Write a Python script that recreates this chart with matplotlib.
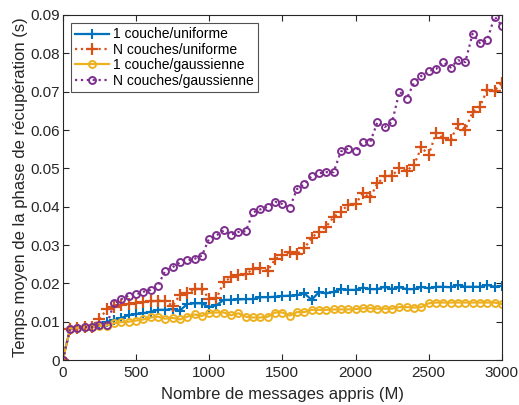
import matplotlib.pyplot as plt
import numpy as np

plt.rcParams['font.family'] = ['Liberation Sans', 'DejaVu Sans']

# nombre de messages appris (pas de 50)
messages = np.arange(0, 3001, 50)

un_uniforme = [0, 0.0082, 0.0084, 0.0086, 0.0087, 0.0096, 0.0100, 0.0104, 0.0110, 0.0117,
               0.0120, 0.0122, 0.0126, 0.0131, 0.0131, 0.0133, 0.0129, 0.0146, 0.0148, 0.0148,
               0.0138, 0.0143, 0.0157, 0.0157, 0.0158, 0.0159, 0.0159, 0.0164, 0.0164, 0.0165,
               0.0167, 0.0168, 0.0169, 0.0174, 0.0157, 0.0177, 0.0174, 0.0178, 0.0185, 0.0183,
               0.0183, 0.0189, 0.0185, 0.0185, 0.0191, 0.0185, 0.0190, 0.0185, 0.0185, 0.0191,
               0.0187, 0.0191, 0.0191, 0.0190, 0.0196, 0.0191, 0.0191, 0.0191, 0.0196, 0.0191,
               0.0194]

n_uniforme = [0, 0.0082, 0.0084, 0.0086, 0.0087, 0.0106, 0.0132, 0.0139, 0.0144, 0.0146,
              0.0150, 0.0151, 0.0153, 0.0155, 0.0155, 0.0141, 0.0170, 0.0174, 0.0185, 0.0186,
              0.0159, 0.0161, 0.0203, 0.0216, 0.0222, 0.0224, 0.0237, 0.0239, 0.0233, 0.0263,
              0.0274, 0.0281, 0.0277, 0.0291, 0.0319, 0.0335, 0.0348, 0.0373, 0.0387, 0.0405,
              0.0407, 0.0435, 0.0424, 0.0461, 0.0479, 0.0481, 0.0500, 0.0494, 0.0509, 0.0555,
              0.0535, 0.0592, 0.0579, 0.0573, 0.0616, 0.0601, 0.0647, 0.0661, 0.0705, 0.0703,
              0.0722]

un_gauss = [0, 0.0082, 0.0084, 0.0086, 0.0087, 0.0089, 0.0090, 0.0096, 0.0099, 0.0100,
            0.0103, 0.0106, 0.0111, 0.0113, 0.0108, 0.0110, 0.0106, 0.0113, 0.0119, 0.0115,
            0.0123, 0.0124, 0.0124, 0.0117, 0.0122, 0.0113, 0.0111, 0.0111, 0.0113, 0.0124,
            0.0124, 0.0116, 0.0125, 0.0125, 0.0131, 0.0131, 0.0131, 0.0132, 0.0132, 0.0132,
            0.0133, 0.0135, 0.0135, 0.0134, 0.0134, 0.0134, 0.0138, 0.0138, 0.0137, 0.0138,
            0.0148, 0.0150, 0.0150, 0.0150, 0.0150, 0.0150, 0.0150, 0.0150, 0.0150, 0.0150,
            0.0146]

n_gauss = [0, 0.0082, 0.0084, 0.0086, 0.0086, 0.0091, 0.0091, 0.0148, 0.0159, 0.0168,
           0.0171, 0.0178, 0.0183, 0.0194, 0.0233, 0.0242, 0.0255, 0.0260, 0.0264, 0.0272,
           0.0317, 0.0325, 0.0338, 0.0327, 0.0334, 0.0336, 0.0385, 0.0393, 0.0400, 0.0413,
           0.0407, 0.0397, 0.0446, 0.0458, 0.0480, 0.0487, 0.0490, 0.0490, 0.0544, 0.0551,
           0.0545, 0.0568, 0.0568, 0.0621, 0.0608, 0.0621, 0.0700, 0.0682, 0.0724, 0.0741,
           0.0754, 0.0759, 0.0777, 0.0763, 0.0782, 0.0777, 0.0851, 0.0827, 0.0834, 0.0896,
           0.0872]

yticks = [0, 0.01, 0.02, 0.03, 0.04, 0.05, 0.06, 0.07, 0.08, 0.09]
ylabels = ['0', '0.01', '0.02', '0.03', '0.04', '0.05', '0.06', '0.07', '0.08', '0.09']

fig = plt.figure(figsize=(5.19, 4.05), dpi=100)
ax = fig.add_axes([0.121, 0.111, 0.846, 0.852])

ax.plot(messages, un_uniforme, '-', color='#0072BD', lw=1.6, marker='+', ms=6.5, mew=1.5,
        label='1 couche/uniforme')
ax.plot(messages, n_uniforme, ':', color='#D95319', lw=1.6, marker='+', ms=8, mew=1.6,
        label='N couches/uniforme')
ax.plot(messages, un_gauss, '-', color='#EDB120', lw=1.6, marker='o', ms=5, mew=1.4,
        mfc='none', label='1 couche/gaussienne')
ax.plot(messages, n_gauss, ':', color='#7E2F8E', lw=1.6, marker='o', ms=5, mew=1.4,
        mfc='none', label='N couches/gaussienne')

ax.set_xlim(0, 3000)
ax.set_ylim(0, 0.09)
ax.set_xticks(range(0, 3001, 500))
ax.set_yticks(yticks)
ax.set_yticklabels(ylabels)
ax.tick_params(direction='in', top=True, right=True, labelsize=11, colors='#262626',
               length=4)
ax.tick_params(axis='x', pad=4)
ax.tick_params(axis='y', pad=2)
for s in ax.spines.values():
    s.set_color('#262626')
    s.set_linewidth(0.8)

ax.set_xlabel('Nombre de messages appris (M)', fontsize=12, color='#262626', labelpad=5)
ax.set_ylabel('Temps moyen de la phase de récupération (s)', fontsize=12, color='#262626',
              labelpad=2)

leg = ax.legend(loc='upper left', fontsize=10, fancybox=False, edgecolor='#262626',
                handlelength=2.4, borderpad=0.3, labelspacing=0.1, handletextpad=0.3,
                borderaxespad=0.6)
leg.get_frame().set_linewidth(0.8)

fig.savefig('out.png', dpi=100)
